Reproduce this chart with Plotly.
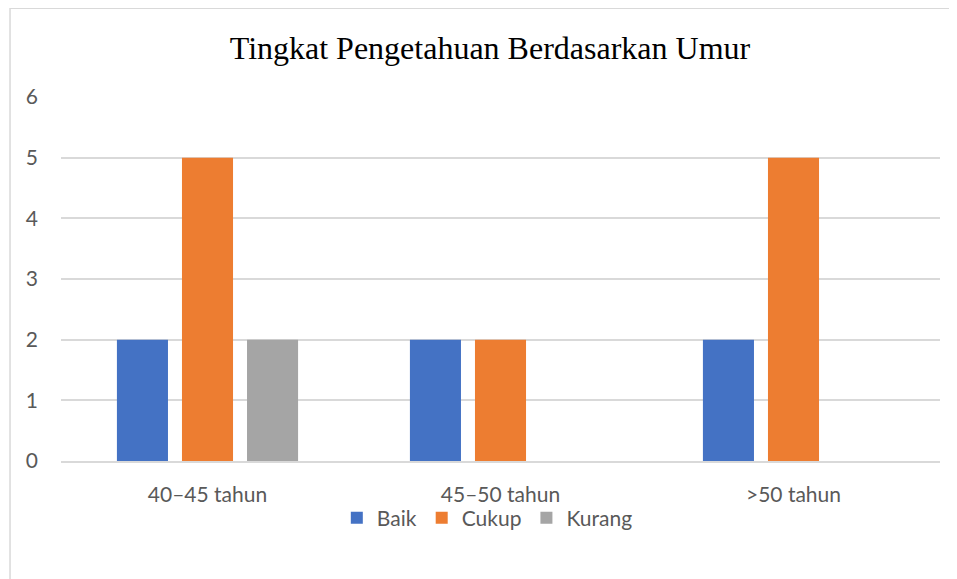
import plotly.graph_objects as go

# Data
kategori = ['40–45 tahun', '45–50 tahun', '>50 tahun']
baik = [2, 2, 2]
cukup = [5, 2, 5]
kurang = [2, 0, 0]

warna = {'Baik': '#4472C4', 'Cukup': '#ED7D31', 'Kurang': '#A5A5A5'}

fig = go.Figure()
for nama, nilai in [('Baik', baik), ('Cukup', cukup), ('Kurang', kurang)]:
    fig.add_trace(go.Bar(x=kategori, y=nilai, name=nama,
                         marker=dict(color=warna[nama], line=dict(width=0))))

tick_font = dict(family='Lato, Open Sans, sans-serif', size=21, color='#595959')

# the page puts the figure 8px in from the corner, so size/margins allow for that
fig.update_layout(
    width=949, height=571,
    margin=dict(l=53, r=17, t=89, b=118),
    paper_bgcolor='white', plot_bgcolor='white',
    barmode='group', bargap=0.334, bargroupgap=0.215,
    title=dict(text='Tingkat Pengetahuan Berdasarkan Umur',
               font=dict(family='Liberation Serif, Times New Roman, serif', size=32, color='#000000'),
               x=0.488, xanchor='center', xref='paper', y=1 - 40 / 571, yanchor='middle'),
    xaxis=dict(showgrid=False, showline=True, linecolor='#D9D9D9', linewidth=1.5,
               tickfont=tick_font, ticks='', ticklabelstandoff=14),
    yaxis=dict(range=[0, 6], dtick=1, showgrid=True, gridcolor='#D9D9D9', gridwidth=1.5,
               zeroline=False, showline=False, tickfont=tick_font, ticks='',
               ticklabelstandoff=22),
    legend=dict(orientation='h', x=0.485, xanchor='center', y=-0.157, yanchor='middle',
                font=tick_font, traceorder='normal', itemwidth=30,
                bgcolor='rgba(0,0,0,0)'),
    showlegend=True,
)

# chart frame like the Excel chart area border
fig.add_shape(type='rect', xref='paper', yref='paper',
              x0=-0.058, x1=1.1, y0=-0.34, y1=1.244,
              line=dict(color='#D9D9D9', width=1.5), layer='below')

fig.write_html("out.html")
